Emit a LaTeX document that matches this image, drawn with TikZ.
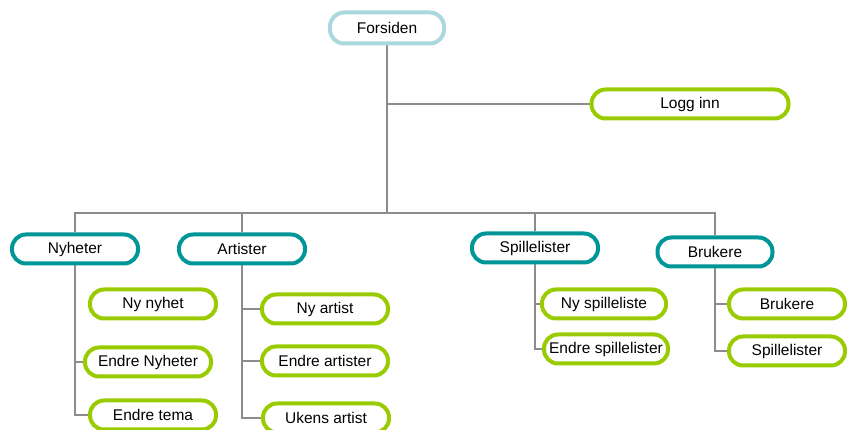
\documentclass[tikz,border=0pt]{standalone}
\usepackage{fontspec}
\setmainfont{Liberation Sans}
\usetikzlibrary{positioning,backgrounds}

\definecolor{topblue}{RGB}{170,216,222}
\definecolor{teal}{RGB}{0,150,152}
\definecolor{leafgreen}{RGB}{153,204,0}
\definecolor{linegray}{RGB}{140,140,140}

\tikzset{
  box/.style={rectangle,rounded corners=14pt,line width=4pt,fill=white,
    font=\fontsize{15.5}{18}\selectfont,inner sep=0pt},
  root/.style={box,draw=topblue,minimum width=114pt,minimum height=31pt},
  section/.style={box,draw=teal,minimum width=126pt,minimum height=29pt},
  page/.style={box,draw=leafgreen,minimum width=126pt,minimum height=29pt},
  link/.style={draw=linegray,line width=1.7pt}
}

\begin{document}
\begin{tikzpicture}[x=1pt,y=-1pt]
\useasboundingbox (0,0) rectangle (847,430);

% top
\node[root] (forsiden) at (387,28) {Forsiden};
\node[page,minimum width=197pt] (logginn) at (690,104) {Logg inn};

% sections
\node[section] (nyheter) at (75,249) {Nyheter};
\node[section] (artister) at (242,249) {Artister};
\node[section] (spillelister) at (535,248) {Spillelister};
\node[section,minimum width=115pt] (brukere) at (715,252) {Brukere};
\coordinate (bus) at (387,213);

% pages
\node[page] (nynyhet) at (153,304) {Ny nyhet};
\node[page] (endrenyheter) at (148,362) {Endre Nyheter};
\node[page] (endretema) at (153,415) {Endre tema};
\node[page] (nyartist) at (325,309) {Ny artist};
\node[page] (endreartister) at (325,361) {Endre artister};
\node[page] (ukensartist) at (326,418) {Ukens artist};
\node[page,minimum width=124pt] (nyspilleliste) at (604,304) {Ny spilleliste};
\node[page,minimum width=124pt] (endrespill) at (606,349) {Endre spillelister};
\node[page,minimum width=116pt] (brukereside) at (787,304) {Brukere};
\node[page,minimum width=116pt] (spillside) at (787,351) {Spillelister};

\begin{scope}[on background layer]
\draw[link] (forsiden) -- (bus);
\draw[link] (logginn.west) -- (logginn.west -| forsiden);
\draw[link] (nyheter) |- (bus) -| (brukere);
\draw[link] (artister) -- (artister |- bus);
\draw[link] (spillelister) -- (spillelister |- bus);
\draw[link] (nyheter) |- (endrenyheter.west);
\draw[link] (nyheter) |- (endretema.west);
\draw[link] (artister) |- (nyartist.west);
\draw[link] (artister) |- (endreartister.west);
\draw[link] (artister) |- (ukensartist.west);
\draw[link] (spillelister) |- (nyspilleliste.west);
\draw[link] (spillelister) |- (endrespill.west);
\draw[link] (brukere) |- (brukereside.west);
\draw[link] (brukere) |- (spillside.west);
\end{scope}
\end{tikzpicture}
\end{document}
